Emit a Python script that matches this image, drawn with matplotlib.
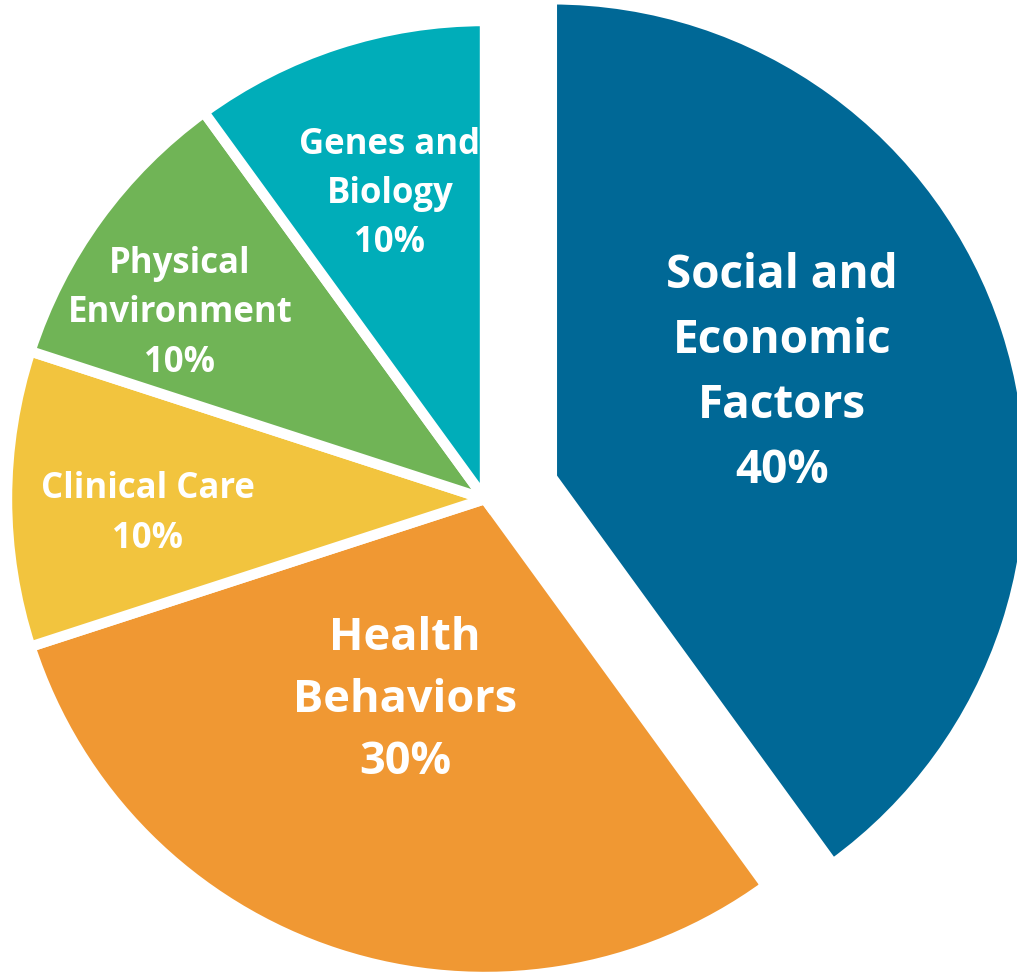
import matplotlib.pyplot as plt

# datos del gráfico
labels = ["Social and\nEconomic\nFactors", "Health\nBehaviors", "Clinical Care",
          "Physical\nEnvironment", "Genes and\nBiology"]
shares = [40, 30, 10, 10, 10]
colors = ["#006896", "#F09833", "#F2C43E", "#70B456", "#00ADB9"]

# posiciones de los textos (pixeles, y desde abajo)
label_pos = [(782, 975 - 373), (405, 975 - 701), (148, 975 - 514),
             (180, 975 - 313), (390, 975 - 194)]
label_size = [33, 32.5, 25, 25, 25]
label_spacing = [1.5, 1.5, 1.5, 1.5, 1.5]

fig = plt.figure(figsize=(10.17, 9.75), dpi=100)
ax = fig.add_axes([0, 0, 1, 1])

R = 478
# explode en unidades de datos (pixeles)
ax.pie(shares,
       colors=colors,
       startangle=90,
       counterclock=False,
       explode=[0.147 * R, 0, 0, 0, 0],
       center=(485, 975 - 499),
       radius=R,
       frame=True,
       wedgeprops=dict(edgecolor="white", linewidth=7.5, joinstyle="miter"))

ax.set_xlim(0, 1017)
ax.set_ylim(0, 975)
ax.set_aspect("equal")
ax.axis("off")

for lab, s, (x, y), fs, ls in zip(labels, shares, label_pos, label_size, label_spacing):
    ax.text(x, y, f"{lab}\n{s}%", ha="center", va="center",
            color="white", fontsize=fs, fontweight="bold",
            family="Open Sans", linespacing=ls)

fig.savefig("out.png", dpi=100)
